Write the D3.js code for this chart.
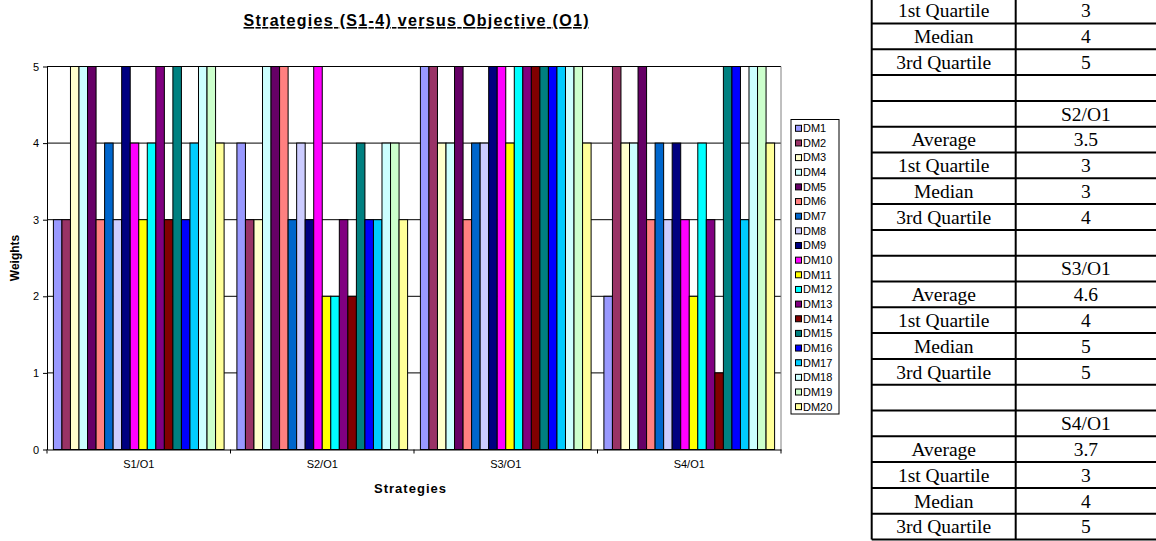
<!DOCTYPE html>
<html>
<head>
<meta charset="utf-8">
<script src="https://cdn.jsdelivr.net/npm/d3@7"></script>
<style>
  html, body { margin: 0; padding: 0; background: #fff; }
  svg { display: block; }
</style>
</head>
<body>
<svg id="chart" width="1156" height="541"></svg>
<script>
// ---------- data ----------
const categories = ["S1/O1", "S2/O1", "S3/O1", "S4/O1"];
const seriesNames = ["DM1","DM2","DM3","DM4","DM5","DM6","DM7","DM8","DM9","DM10",
                     "DM11","DM12","DM13","DM14","DM15","DM16","DM17","DM18","DM19","DM20"];
const s1Values = [3,3,5,5,5,3,4,3,5,4,3,4,5,3,5,3,4,5,5,4];
const s2Values = [4,3,3,5,5,5,3,4,3,5,2,2,3,2,4,3,3,4,4,3];
const s3Values = [5,5,4,4,5,3,4,4,5,5,4,5,5,5,5,5,5,5,5,4];
const s4Values = [2,5,4,4,5,3,4,3,4,3,2,4,3,1,5,5,3,5,5,4];
const seriesColors = ["#9999FF","#993366","#FFFFCC","#CCFFFF","#660066","#FF8080","#0066CC","#CCCCFF",
                      "#000080","#FF00FF","#FFFF00","#00FFFF","#800080","#800000","#008080","#0000FF",
                      "#00CCFF","#CCFFFF","#CCFFCC","#FFFF99"];
const yTickValues = [0, 1, 2, 3, 4, 5];

const tableLabels = ["1st Quartile","Median","3rd Quartile","","","Average","1st Quartile","Median","3rd Quartile",
                     "","","Average","1st Quartile","Median","3rd Quartile","","","Average","1st Quartile","Median","3rd Quartile"];
const tableValues = ["3","4","5","","S2/O1","3.5","3","3","4","","S3/O1","4.6","4","5","5","","S4/O1","3.7","3","4","5"];

const chartTitle = "Strategies (S1-4) versus Objective (O1)";
const xTitle = "Strategies";
const yTitle = "Weights";

// ---------- layout ----------
const svg = d3.select("#chart");
const sans = "'Liberation Sans', Arial, sans-serif";
const serif = "'Liberation Serif', 'Times New Roman', serif";
const plot = { left: 47, right: 781, top: 66.5, bottom: 449.5 };

const valuesByCat = [s1Values, s2Values, s3Values, s4Values];
const data = categories.map((c, i) => ({ cat: c, values: seriesNames.map((s, j) => ({ s, j, v: valuesByCat[i][j] })) }));

const x0 = d3.scaleBand().domain(categories).range([plot.left, plot.right]).paddingInner(0).paddingOuter(0);
const x1 = d3.scaleBand().domain(seriesNames).range([0, x0.bandwidth()]).paddingInner(0).paddingOuter(0.75);
const y = d3.scaleLinear().domain([0, 5]).range([plot.bottom, plot.top]);
const color = d3.scaleOrdinal().domain(seriesNames).range(seriesColors);

// gridlines
svg.append("g").selectAll("line").data(yTickValues.filter(d => d > 0)).join("line")
  .attr("x1", plot.left).attr("x2", plot.right)
  .attr("y1", d => y(d)).attr("y2", d => y(d))
  .attr("stroke", "#000").attr("stroke-width", 1);

// right border of plot area
svg.append("line")
  .attr("x1", plot.right).attr("x2", plot.right)
  .attr("y1", y(5)).attr("y2", y(0))
  .attr("stroke", "#808080").attr("stroke-width", 1);

// bars
const groups = svg.append("g").selectAll("g").data(data).join("g")
  .attr("transform", d => `translate(${x0(d.cat)},0)`);
groups.selectAll("rect").data(d => d.values).join("rect")
  .attr("x", d => x1(d.s))
  .attr("y", d => y(d.v))
  .attr("width", x1.bandwidth())
  .attr("height", d => y(0) - y(d.v))
  .attr("fill", d => color(d.s))
  .attr("stroke", "#000").attr("stroke-width", 1);

// y axis
const yAxis = svg.append("g").attr("transform", `translate(${plot.left},0)`)
  .call(d3.axisLeft(y).tickValues(yTickValues).tickFormat(d3.format("d")).tickSize(4).tickSizeOuter(0).tickPadding(4));
yAxis.select(".domain").attr("stroke", "#000");
yAxis.selectAll("line").attr("stroke", "#000");
yAxis.selectAll("text").attr("font-family", sans).attr("font-size", "11px").attr("fill", "#000");

// x axis (labels centred in bands, tick marks at category boundaries)
const xAxis = svg.append("g").attr("transform", `translate(0,${plot.bottom})`)
  .call(d3.axisBottom(x0).tickSize(0).tickSizeOuter(0).tickPadding(11));
xAxis.select(".domain").attr("stroke", "#000");
xAxis.selectAll("text").attr("font-family", sans).attr("font-size", "11px").attr("fill", "#000");
const boundaries = categories.map(c => x0(c)).concat([x0.range()[1]]);
svg.append("g").selectAll("line").data(boundaries).join("line")
  .attr("x1", d => d).attr("x2", d => d)
  .attr("y1", plot.bottom).attr("y2", plot.bottom + 4)
  .attr("stroke", "#000");

// titles
const midX = (plot.left + plot.right) / 2;
svg.append("text").attr("x", midX + 2).attr("y", 26).attr("text-anchor", "middle")
  .attr("font-family", sans).attr("font-size", "16px").attr("font-weight", "bold")
  .attr("textLength", 345).attr("lengthAdjust", "spacing")
  .attr("text-decoration", "underline").text(chartTitle);
svg.append("text").attr("x", midX - 4).attr("y", 493).attr("text-anchor", "middle")
  .attr("font-family", sans).attr("font-size", "13px").attr("font-weight", "bold")
  .attr("textLength", 72).attr("lengthAdjust", "spacing").text(xTitle);
svg.append("text").attr("transform", `translate(19,${(plot.top + plot.bottom) / 2}) rotate(-90)`)
  .attr("text-anchor", "middle")
  .attr("font-family", sans).attr("font-size", "12px").attr("font-weight", "bold").text(yTitle);

// legend
const legend = { x: 791, y: 119.5, w: 48, h: 294.5, first: 128.3, step: 14.65 };
svg.append("rect").attr("x", legend.x).attr("y", legend.y).attr("width", legend.w).attr("height", legend.h)
  .attr("fill", "#fff").attr("stroke", "#000").attr("stroke-width", 1);
const li = svg.append("g").selectAll("g").data(seriesNames).join("g")
  .attr("transform", (d, i) => `translate(${legend.x + 4.5},${legend.first + i * legend.step})`);
li.append("rect").attr("x", 0).attr("y", -3).attr("width", 6).attr("height", 6)
  .attr("fill", d => color(d)).attr("stroke", "#000").attr("stroke-width", 1);
li.append("text").attr("x", 7.5).attr("y", 0).attr("dy", "0.35em")
  .attr("font-family", sans).attr("font-size", "11px").text(d => d);

// statistics table
const table = { left: 871.7, mid: 1015.7, right: 1158, top: -2.3, rowH: 25.8 };
const tg = svg.append("g");
const nRows = tableLabels.length;
const rowYs = d3.range(nRows + 1).map(i => table.top + i * table.rowH);
tg.selectAll("line.h").data(rowYs).join("line").attr("class", "h")
  .attr("x1", table.left).attr("x2", table.right)
  .attr("y1", d => d).attr("y2", d => d)
  .attr("stroke", "#000").attr("stroke-width", 2);
[table.left, table.mid, table.right].forEach(xv => {
  tg.append("line").attr("x1", xv).attr("x2", xv).attr("y1", rowYs[0]).attr("y2", rowYs[nRows])
    .attr("stroke", "#000").attr("stroke-width", 2);
});
tg.selectAll("text.l").data(tableLabels).join("text").attr("class", "l")
  .attr("x", (table.left + table.mid) / 2)
  .attr("y", (d, i) => table.top + (i + 0.5) * table.rowH)
  .attr("dy", "0.35em").attr("text-anchor", "middle")
  .attr("font-family", serif).attr("font-size", "19.5px").text(d => d);
tg.selectAll("text.v").data(tableValues).join("text").attr("class", "v")
  .attr("x", (table.mid + 1156) / 2)
  .attr("y", (d, i) => table.top + (i + 0.5) * table.rowH)
  .attr("dy", "0.35em").attr("text-anchor", "middle")
  .attr("font-family", serif).attr("font-size", "19.5px").text(d => d);
</script>
</body>
</html>
